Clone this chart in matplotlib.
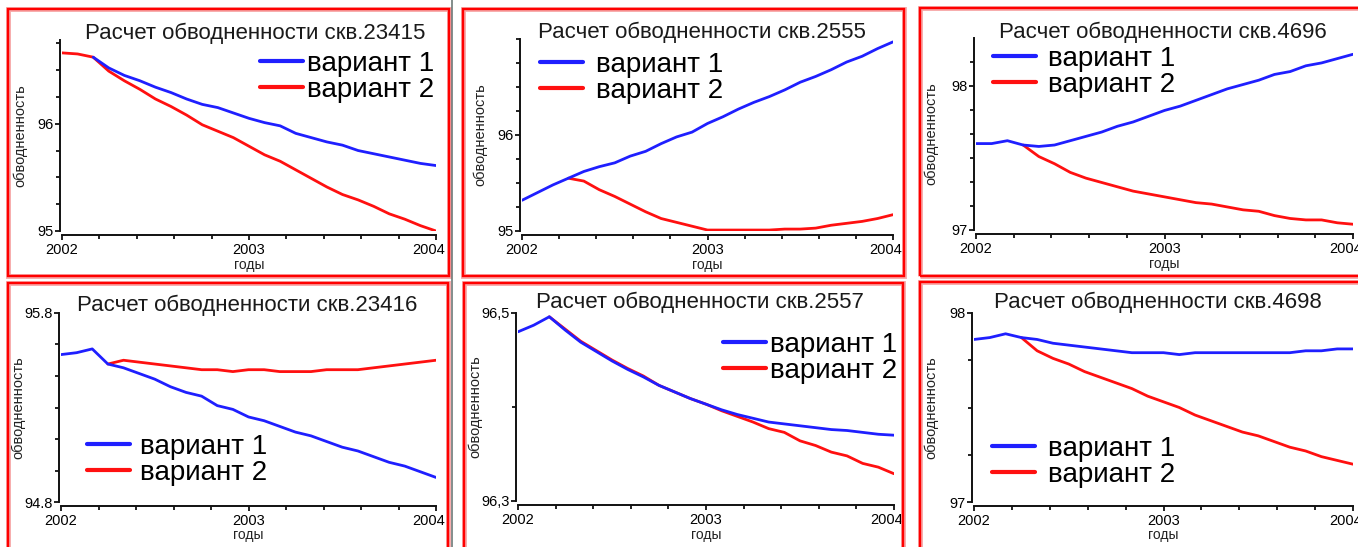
import numpy as np
import matplotlib
matplotlib.use("Agg")
import matplotlib.pyplot as plt
import matplotlib.transforms as mtransforms
from matplotlib.patches import Rectangle
from matplotlib.lines import Line2D
from matplotlib.ticker import FixedLocator, MultipleLocator

plt.rcParams['font.family'] = ['Liberation Sans', 'DejaVu Sans']

W, H, DPI = 1358, 547, 100
nan = np.nan

# monthly steps from Jan 2002 to Jan 2004
months = list(range(25))
year_ticks = [2002, 2003, 2004]
year_labels = ["2002", "2003", "2004"]

title_fmt = "Расчет обводненности скв.{}"
series_labels = ["вариант 1", "вариант 2"]
x_label = "годы"
y_label = "обводненность"

wells = ["23415", "2555", "4696", "23416", "2557", "4698"]

v1_23415 = [nan, nan, 96.62, 96.52, 96.45, 96.40, 96.34, 96.29, 96.23, 96.18, 96.15, 96.10,
            96.05, 96.01, 95.98, 95.91, 95.87, 95.83, 95.80, 95.75, 95.72, 95.69, 95.66, 95.63, 95.61]
v2_23415 = [96.66, 96.65, 96.62, 96.49, 96.40, 96.32, 96.23, 96.16, 96.08, 95.99, 95.93, 95.87,
            95.79, 95.71, 95.65, 95.57, 95.49, 95.41, 95.34, 95.29, 95.23, 95.16, 95.11, 95.05, 95.00]

v1_2555 = [95.32, 95.40, 95.48, 95.55, 95.62, 95.67, 95.71, 95.78, 95.83, 95.91, 95.98, 96.03,
           96.12, 96.19, 96.27, 96.34, 96.40, 96.47, 96.55, 96.61, 96.68, 96.76, 96.82, 96.90, 96.97]
v2_2555 = [nan, nan, nan, 95.55, 95.52, 95.43, 95.36, 95.28, 95.20, 95.13, 95.09, 95.05,
           95.01, 95.01, 95.01, 95.01, 95.01, 95.02, 95.02, 95.03, 95.06, 95.08, 95.10, 95.13, 95.17]

v1_4696 = [97.60, 97.60, 97.62, 97.59, 97.58, 97.59, 97.62, 97.65, 97.68, 97.72, 97.75, 97.79,
           97.83, 97.86, 97.90, 97.94, 97.98, 98.01, 98.04, 98.08, 98.10, 98.14, 98.16, 98.19, 98.22]
v2_4696 = [nan, nan, nan, 97.59, 97.51, 97.46, 97.40, 97.36, 97.33, 97.30, 97.27, 97.25,
           97.23, 97.21, 97.19, 97.18, 97.16, 97.14, 97.13, 97.10, 97.08, 97.07, 97.07, 97.05, 97.04]

v1_23416 = [95.58, 95.59, 95.61, 95.53, 95.51, 95.48, 95.45, 95.41, 95.38, 95.36, 95.31, 95.29,
            95.25, 95.23, 95.20, 95.17, 95.15, 95.12, 95.09, 95.07, 95.04, 95.01, 94.99, 94.96, 94.93]
v2_23416 = [nan, nan, nan, 95.53, 95.55, 95.54, 95.53, 95.52, 95.51, 95.50, 95.50, 95.49,
            95.50, 95.50, 95.49, 95.49, 95.49, 95.50, 95.50, 95.50, 95.51, 95.52, 95.53, 95.54, 95.55]

v1_2557 = [96.480, 96.487, 96.496, 96.482, 96.469, 96.459, 96.449, 96.440, 96.432, 96.423, 96.416, 96.409,
           96.403, 96.397, 96.392, 96.388, 96.384, 96.382, 96.380, 96.378, 96.376, 96.375, 96.373, 96.371, 96.370]
v2_2557 = [nan, nan, 96.496, 96.483, 96.470, 96.460, 96.450, 96.441, 96.433, 96.423, 96.416, 96.409,
           96.403, 96.396, 96.390, 96.384, 96.377, 96.373, 96.364, 96.359, 96.352, 96.348, 96.340, 96.336, 96.329]

v1_4698 = [97.86, 97.87, 97.89, 97.87, 97.86, 97.84, 97.83, 97.82, 97.81, 97.80, 97.79, 97.79,
           97.79, 97.78, 97.79, 97.79, 97.79, 97.79, 97.79, 97.79, 97.79, 97.80, 97.80, 97.81, 97.81]
v2_4698 = [nan, nan, nan, 97.87, 97.80, 97.76, 97.73, 97.69, 97.66, 97.63, 97.60, 97.56,
           97.53, 97.50, 97.46, 97.43, 97.40, 97.37, 97.35, 97.32, 97.29, 97.27, 97.24, 97.22, 97.20]

variant1 = [v1_23415, v1_2555, v1_4696, v1_23416, v1_2557, v1_4698]
variant2 = [v2_23415, v2_2555, v2_4696, v2_23416, v2_2557, v2_4698]

y_limits = [(95, 96.78), (95, 97), (97, 98.333), (94.8, 95.8), (96.3, 96.5), (97, 98)]
y_major = [[95, 96], [95, 96], [97, 98], [94.8, 95.8], [96.3, 96.5], [97, 98]]
y_major_labels = [["95", "96"], ["95", "96"], ["97", "98"], ["94.8", "95.8"], ["96,3", "96,5"], ["97", "98"]]
y_minor_step = [0.25, 0.25, 1 / 6, 1 / 6, 0.1, 0.25]

# layout in pixels
axes_px = [  # left, top, right, bottom of the data area
    (62, 40, 436, 231), (522, 39, 893, 231), (976, 38, 1353, 230),
    (61, 313, 436, 502), (518, 313, 894, 501), (974, 313, 1353, 502),
]
frames_px = [
    (8, 9, 449, 276), (463, 9, 904, 276), (920, 8, 1364, 276),
    (8, 283, 448, 553), (464, 283, 903, 553), (920, 282, 1364, 553),
]
titles_px = [(255, 33), (702, 32), (1163, 32), (247, 305), (700, 302), (1158, 302)]
legend_px = [(260, 51), (540, 52), (993, 46), (87, 434), (723, 332), (992, 436)]
legend_gap_px = [4, 13, 12, 10, 4, 13]
ylabel_right_px = [27, 487, 938, 25, 482, 938]

blue = "#1f1fff"
red = "#ff1010"
legend_pt = 20

fig = plt.figure(figsize=(W / DPI, H / DPI), dpi=DPI)
fig.patch.set_facecolor("white")

# panel frames
for (x0, y0, x1, y1) in frames_px:
    for lw, col in [(3.5, "#f7a8a8"), (1.7, "#ff0000")]:
        fig.add_artist(Rectangle((x0 / W, 1 - y1 / H), (x1 - x0) / W, (y1 - y0) / H,
                                 transform=fig.transFigure, fill=False, lw=lw, ec=col))
fig.add_artist(Line2D([451.5 / W, 451.5 / W], [0, 1], transform=fig.transFigure,
                      color="#6e7a78", lw=1.2))

x_years = [2002 + m / 12 for m in months]
last_label_shift = mtransforms.ScaledTranslation(-7 / DPI, 0, fig.dpi_scale_trans)

for i in range(6):
    l, t, r, b = axes_px[i]
    ax = fig.add_axes([l / W, 1 - b / H, (r - l) / W, (b - t) / H])
    ax.set_facecolor("none")
    ln2, = ax.plot(x_years, np.array(variant2[i], dtype=float), color=red, lw=2.0,
                   solid_capstyle="round", zorder=2)
    ln1, = ax.plot(x_years, np.array(variant1[i], dtype=float), color=blue, lw=2.0,
                   solid_capstyle="round", zorder=3)
    ax.set_xlim(2002, 2004)
    ax.set_ylim(*y_limits[i])
    for s in ("top", "right"):
        ax.spines[s].set_visible(False)
    ax.spines["left"].set_position(("outward", 1.5))
    ax.spines["bottom"].set_position(("outward", 3))
    for s in ("left", "bottom"):
        ax.spines[s].set_linewidth(1.4)
        ax.spines[s].set_color("#111111")
    ax.xaxis.set_major_locator(FixedLocator(year_ticks))
    ax.set_xticklabels(year_labels)
    ax.xaxis.set_minor_locator(MultipleLocator(0.2))
    ax.yaxis.set_major_locator(FixedLocator(y_major[i]))
    ax.set_yticklabels(y_major_labels[i])
    lo, hi = y_limits[i]
    step = y_minor_step[i]
    ax.yaxis.set_minor_locator(FixedLocator(list(np.arange(lo, hi + 1e-6, step))))
    ax.tick_params(which="both", direction="out", width=1.3, color="#111111",
                   labelsize=10.5, length=3.5)
    ax.tick_params(axis="x", pad=2)
    ax.tick_params(axis="y", pad=1)
    ax.tick_params(which="minor", length=3)
    last = ax.get_xticklabels()[-1]
    last.set_transform(last.get_transform() + last_label_shift)
    ax.set_xlabel(x_label, fontsize=10, labelpad=0.5, color="#222222")
    ax.set_ylabel(y_label, fontsize=10.5, color="#222222")
    ax.yaxis.set_label_coords((ylabel_right_px[i] - l) / (r - l), 0.5)
    tx, ty = titles_px[i]
    fig.text(tx / W, 1 - ty / H, title_fmt.format(wells[i]), ha="center", va="center",
             fontsize=16, color="#1a1a1a")
    lx, ly = legend_px[i]
    pad = legend_gap_px[i] / (legend_pt * DPI / 72)
    ax.legend([ln1, ln2], series_labels, loc="upper left",
              bbox_to_anchor=(lx / W, 1 - ly / H), bbox_transform=fig.transFigure,
              frameon=False, fontsize=legend_pt, handlelength=1.55, handletextpad=pad,
              labelspacing=0.0, borderpad=0, borderaxespad=0)
    for lg in ax.get_legend().get_lines():
        lg.set_linewidth(3.0)

fig.savefig("out.png", dpi=DPI, facecolor="white")
